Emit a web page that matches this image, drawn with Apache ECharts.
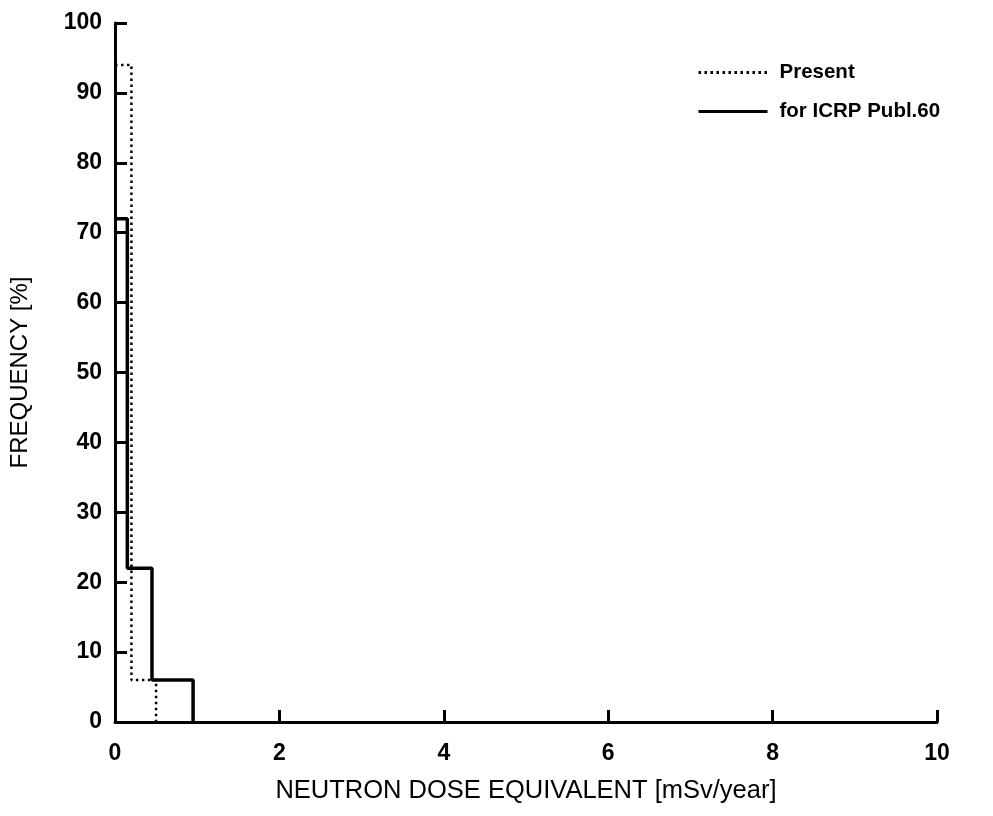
<!DOCTYPE html>
<html>
<head>
<meta charset="utf-8">
<script src="https://cdn.jsdelivr.net/npm/echarts@6/dist/echarts.min.js"></script>
<style>
html,body{margin:0;padding:0;background:#fff;}
#chart{width:993px;height:816px;}
</style>
</head>
<body>
<div id="chart"></div>
<script>
// Histogram bin edges (mSv/year) and frequencies (%)
const presentEdges = [0, 0.2, 0.5];
const presentFreq = [94, 6];
const icrpEdges = [0, 0.15, 0.45, 0.95];
const icrpFreq = [72, 22, 6];
const xTicks = [0, 2, 4, 6, 8, 10];
const yTicks = [0, 10, 20, 30, 40, 50, 60, 70, 80, 90, 100];
const seriesNames = ['Present', 'for ICRP Publ.60'];

function stepOutline(edges, freq) {
  const pts = [];
  for (let i = 0; i < freq.length; i++) {
    pts.push([edges[i], freq[i]]);
    pts.push([edges[i + 1], freq[i]]);
  }
  pts.push([edges[edges.length - 1], 0]);
  return pts;
}

const chart = echarts.init(document.getElementById('chart'));
const font = '"Liberation Sans", Arial, Helvetica, sans-serif';
chart.setOption({
  animation: false,
  backgroundColor: '#fff',
  grid: { left: 113, right: 56, top: 23, bottom: 94 },
  legend: {
    orient: 'vertical',
    left: 692,
    top: 57,
    itemWidth: 69,
    itemHeight: 20,
    itemGap: 18,
    data: seriesNames,
    itemStyle: { opacity: 0 },
    lineStyle: { width: 3 },
    textStyle: { fontFamily: font, fontSize: 20.5, fontWeight: 'bold', color: '#000', padding: [0, 0, 0, 7] }
  },
  xAxis: {
    type: 'value',
    min: xTicks[0],
    max: xTicks[xTicks.length - 1],
    interval: 2,
    name: 'NEUTRON DOSE EQUIVALENT [mSv/year]',
    nameLocation: 'middle',
    nameGap: 56,
    nameTextStyle: { fontFamily: font, fontSize: 25.5, color: '#000' },
    axisLine: { lineStyle: { color: '#000', width: 3 } },
    axisTick: { inside: true, length: 12, lineStyle: { color: '#000', width: 3 } },
    axisLabel: { margin: 20, fontFamily: font, fontSize: 23, fontWeight: 'bold', color: '#000' },
    splitLine: { show: false }
  },
  yAxis: {
    type: 'value',
    min: yTicks[0],
    max: yTicks[yTicks.length - 1],
    interval: 10,
    name: 'FREQUENCY [%]',
    nameLocation: 'middle',
    nameGap: 83,
    nameRotate: 90,
    nameTextStyle: { fontFamily: font, fontSize: 24, color: '#000' },
    axisLine: { show: true, lineStyle: { color: '#000', width: 3 } },
    axisTick: { show: true, inside: true, length: 12, lineStyle: { color: '#000', width: 3 } },
    axisLabel: { margin: 13, fontFamily: font, fontSize: 23, fontWeight: 'bold', color: '#000' },
    splitLine: { show: false }
  },
  series: [
    {
      name: seriesNames[0],
      type: 'line',
      data: stepOutline(presentEdges, presentFreq),
      showSymbol: false,
      symbol: 'none',
      itemStyle: { color: '#000', opacity: 0 },
      lineStyle: { color: '#000', width: 2.5, type: [2.5, 3.5] },
      z: 3
    },
    {
      name: seriesNames[1],
      type: 'line',
      data: stepOutline(icrpEdges, icrpFreq),
      showSymbol: false,
      symbol: 'none',
      itemStyle: { color: '#000', opacity: 0 },
      lineStyle: { color: '#000', width: 3.5, type: 'solid' },
      z: 4
    }
  ]
});
</script>
</body>
</html>
